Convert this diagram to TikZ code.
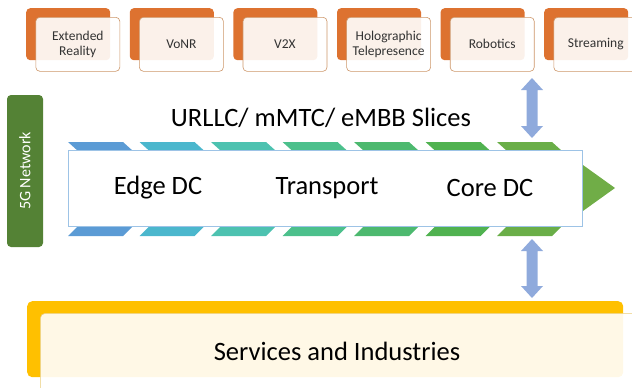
\documentclass[tikz,border=0pt]{standalone}
\usepackage{fontspec}
\setmainfont{Carlito}
\usetikzlibrary{calc}
\definecolor{appback}{RGB}{221,114,48}
\definecolor{appedge}{RGB}{205,150,105}
\definecolor{apptext}{RGB}{50,50,50}
\definecolor{netgreen}{RGB}{84,130,53}
\definecolor{linkblue}{RGB}{143,170,220}
\definecolor{boxedge}{RGB}{157,195,230}
\definecolor{svcyellow}{RGB}{255,192,0}
\definecolor{svcedge}{RGB}{235,205,120}
\definecolor{sA}{RGB}{91,155,213}
\definecolor{sB}{RGB}{75,183,205}
\definecolor{sC}{RGB}{77,194,176}
\definecolor{sD}{RGB}{76,192,140}
\definecolor{sE}{RGB}{77,185,111}
\definecolor{sF}{RGB}{80,178,80}
\definecolor{sG}{RGB}{106,174,72}
\definecolor{tipgreen}{RGB}{112,173,71}
\tikzset{
  appshadow/.style={draw=none, fill=appback, rounded corners=4pt,
    minimum width=84pt, minimum height=52pt, inner sep=0pt},
  appcard/.style={draw=appedge, line width=0.6pt, fill=white, fill opacity=0.9,
    text opacity=1, rounded corners=4pt, minimum width=84pt, minimum height=54pt,
    inner sep=1pt, align=center, font=\fontsize{13.5}{14.5}\selectfont, text=apptext},
  layerlabel/.style={font=\fontsize{26.5}{28}\selectfont, text=black, inner sep=0pt},
  linkarrow/.style={fill=linkblue, draw=none},
}
\begin{document}
\begin{tikzpicture}[x=1pt, y=-1pt]
\useasboundingbox (0,0) rectangle (632,388);
\clip (0,0) rectangle (632,388);

% application cards along the top
\foreach \i/\name/\lbl in {0/xr/{Extended\\Reality}, 1/vonr/VoNR, 2/vtx/V2X,
    3/holo/{Holographic\\Telepresence}, 4/robo/Robotics, 5/strm/Streaming} {
  \node[appshadow, anchor=north west] (\name-back) at ({26+103.6*\i},8) {};
  \node[appcard, anchor=north west] (\name) at ({35.5+103.6*\i},17) {\lbl};
}

% 5G network side bar
\node[draw=none, fill=netgreen, rounded corners=4pt, minimum width=36pt,
  minimum height=152pt, inner sep=0pt] (net) at (25,171) {};
\node[rotate=90, text=white, font=\fontsize{16}{17}\selectfont] (netlbl) at (net.center) {5G Network};

% slice title
\node[layerlabel] (slices) at (321,118) {URLLC/ mMTC/ eMBB Slices};

% chevron stripes above and below the data-centre band
\foreach \k/\c in {0/sA,1/sB,2/sC,3/sD,4/sE,5/sF,6/sG} {
  \pgfmathsetmacro{\xs}{68+71.5*\k}
  \fill[\c] (\xs,142) -- (\xs+55,142) -- (\xs+65,151) -- (\xs+10,151) -- cycle;
  \fill[\c] (\xs+10,226) -- (\xs+65,226) -- (\xs+55,236) -- (\xs,236) -- cycle;
}
\fill[tipgreen] (562,150) -- (615,188) -- (562,226) -- cycle;

% data-centre band
\node[draw=boxedge, line width=0.8pt, fill=white, minimum width=514pt,
  minimum height=76pt, inner sep=0pt, anchor=north west] (band) at (68,150) {};
\node[layerlabel] (edge) at (158,188) {Edge DC};
\node[layerlabel] (transport) at (327,188) {Transport};
\node[layerlabel] (core) at (490,188) {Core DC};

% services and industries layer
\node[draw=none, fill=svcyellow, rounded corners=5pt, minimum width=596pt,
  minimum height=76pt, inner sep=0pt, anchor=north west] (svc-back) at (27,301) {};
\node[draw=svcedge, line width=0.6pt, fill=white, fill opacity=0.9, text opacity=1,
  rounded corners=5pt, minimum width=610pt, minimum height=90pt, inner sep=0pt,
  anchor=north west] (svc) at (40,313) {};
\node[font=\fontsize{26.5}{28}\selectfont, inner sep=0pt] (svclbl) at (337,351) {Services and Industries};

% two-way links between the slices and the layers above and below
\coordinate (upT) at (532,78);
\coordinate (upB) at (532,138);
\coordinate (dnT) at (532,239);
\coordinate (dnB) at (532,298);
\foreach \a/\b in {upT/upB, dnT/dnB} {
  \path[linkarrow] let \p1=(\a), \p2=(\b) in
    (\x1,\y1) -- ++(11pt,-12pt) -- ++(-5.5pt,0) -- (\x2+5.5pt,\y2+12pt)
    -- ++(5.5pt,0) -- (\x2,\y2) -- ++(-11pt,12pt) -- ++(5.5pt,0)
    -- (\x1-5.5pt,\y1-12pt) -- ++(-5.5pt,0) -- cycle;
}
\end{tikzpicture}
\end{document}
